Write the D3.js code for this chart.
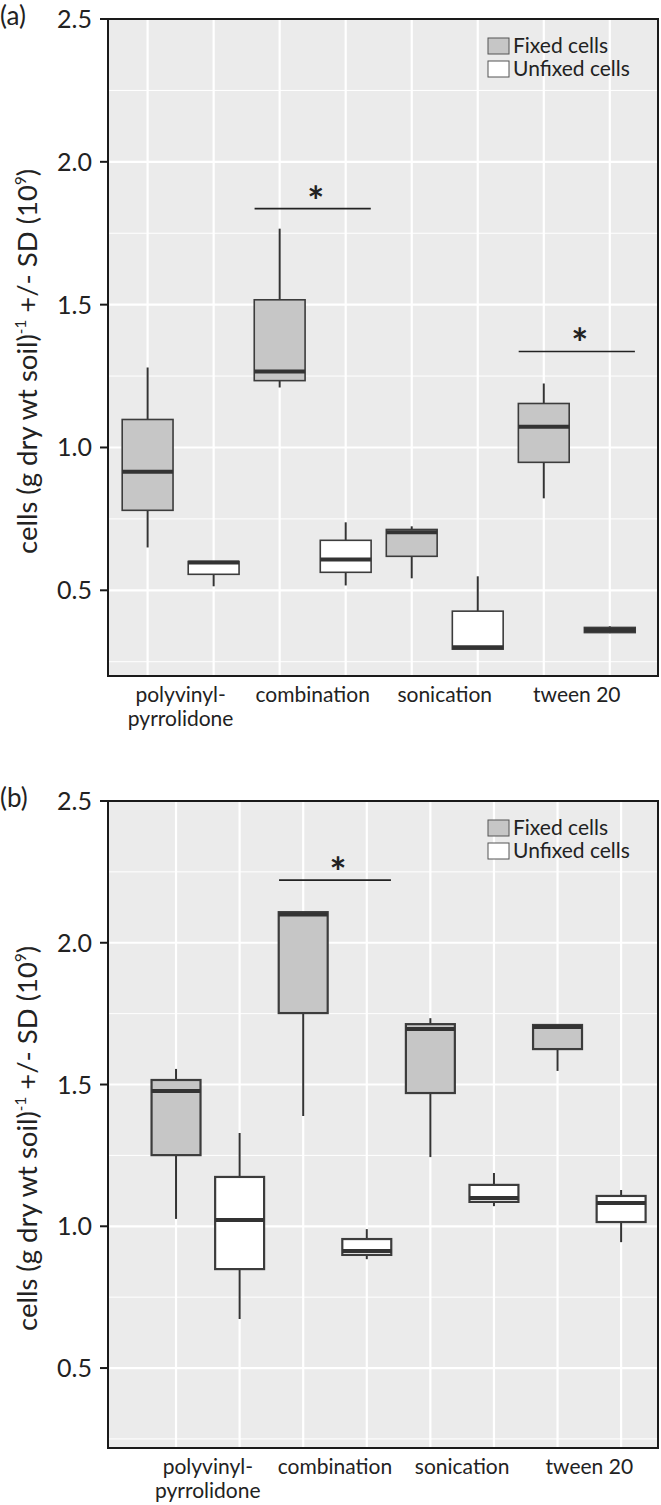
<!DOCTYPE html>
<html>
<head>
<meta charset="utf-8">
<script src="https://cdn.jsdelivr.net/npm/d3@7"></script>
<style>
  body { margin: 0; background: #fff; }
  text { font-family: Lato, "Open Sans", sans-serif; fill: #222; }
</style>
</head>
<body>
<svg id="chart" width="661" height="1505"></svg>
<script>
// categories and series
const categories = [["polyvinyl-", "pyrrolidone"], ["combination"], ["sonication"], ["tween 20"]];
const seriesNames = ["Fixed cells", "Unfixed cells"];
const yTicks = [0.5, 1.0, 1.5, 2.0, 2.5];
const yMinor = [0.25, 0.75, 1.25, 1.75, 2.25];

// box stats per category: [min, q1, median, q3, max]
const fixedA   = [[0.65, 0.78, 0.915, 1.098, 1.28], [1.21, 1.234, 1.266, 1.517, 1.766], [0.542, 0.619, 0.703, 0.713, 0.724], [0.822, 0.948, 1.073, 1.154, 1.224]];
const unfixedA = [[0.514, 0.556, 0.597, 0.601, 0.601], [0.517, 0.563, 0.608, 0.675, 0.738], [0.294, 0.294, 0.301, 0.427, 0.549], [0.35, 0.352, 0.361, 0.37, 0.374]];
const fixedB   = [[1.026, 1.251, 1.477, 1.516, 1.555], [1.389, 1.752, 2.10, 2.108, 2.108], [1.244, 1.47, 1.696, 1.713, 1.734], [1.548, 1.625, 1.703, 1.71, 1.71]];
const unfixedB = [[0.673, 0.849, 1.022, 1.174, 1.329], [0.884, 0.899, 0.913, 0.955, 0.99], [1.071, 1.086, 1.10, 1.146, 1.188], [0.944, 1.015, 1.082, 1.107, 1.128]];

// significance bars: category index and height
const sigA = [{ cat: 1, y: 1.836 }, { cat: 3, y: 1.336 }];
const sigB = [{ cat: 1, y: 2.221 }];

const fills = ["#c6c6c6", "#ffffff"];

const panels = [
  { label: "(a)", fixed: fixedA, unfixed: unfixedA, sig: sigA, top: 19, bottom: 676, yMin: 0.2, xDom: [-0.6, 7.73], boxStroke: 1.6 },
  { label: "(b)", fixed: fixedB, unfixed: unfixedB, sig: sigB, top: 801, bottom: 1448, yMin: 0.218, xDom: [-1.07, 7.58], boxStroke: 2.2 }
];

const left = 108, right = 658;
const svg = d3.select("#chart");

panels.forEach(p => {
  const g = svg.append("g");
  const x = d3.scaleLinear().domain(p.xDom).range([left, right]);
  const y = d3.scaleLinear().domain([p.yMin, 2.5]).range([p.bottom, p.top]);
  const bw = x(0.385) - x(0);

  g.append("rect").attr("x", left).attr("y", p.top).attr("width", right - left).attr("height", p.bottom - p.top).attr("fill", "#ebebeb");

  g.selectAll(".minor").data(yMinor).enter().append("line")
    .attr("x1", left).attr("x2", right).attr("y1", d => y(d)).attr("y2", d => y(d))
    .attr("stroke", "#fff").attr("stroke-width", 1);
  g.selectAll(".major").data(yTicks).enter().append("line")
    .attr("x1", left).attr("x2", right).attr("y1", d => y(d)).attr("y2", d => y(d))
    .attr("stroke", "#fff").attr("stroke-width", 2.2);
  g.selectAll(".vgrid").data(d3.range(8)).enter().append("line")
    .attr("x1", d => x(d)).attr("x2", d => x(d)).attr("y1", p.top).attr("y2", p.bottom)
    .attr("stroke", "#fff").attr("stroke-width", 2.2);

  // boxes
  const boxes = [];
  categories.forEach((c, i) => {
    boxes.push({ pos: 2 * i, s: p.fixed[i], fill: fills[0] });
    boxes.push({ pos: 2 * i + 1, s: p.unfixed[i], fill: fills[1] });
  });
  const bx = g.selectAll(".box").data(boxes).enter().append("g");
  bx.append("line").attr("x1", d => x(d.pos)).attr("x2", d => x(d.pos))
    .attr("y1", d => y(d.s[4])).attr("y2", d => y(d.s[3])).attr("stroke", "#333").attr("stroke-width", 2);
  bx.append("line").attr("x1", d => x(d.pos)).attr("x2", d => x(d.pos))
    .attr("y1", d => y(d.s[1])).attr("y2", d => y(d.s[0])).attr("stroke", "#333").attr("stroke-width", 2);
  bx.append("rect").attr("x", d => x(d.pos) - bw).attr("width", 2 * bw)
    .attr("y", d => y(d.s[3])).attr("height", d => y(d.s[1]) - y(d.s[3]))
    .attr("fill", d => d.fill).attr("stroke", "#3c3c3c").attr("stroke-width", p.boxStroke);
  bx.append("line").attr("x1", d => x(d.pos) - bw).attr("x2", d => x(d.pos) + bw)
    .attr("y1", d => y(d.s[2])).attr("y2", d => y(d.s[2])).attr("stroke", "#333").attr("stroke-width", 4);

  // frame
  g.append("rect").attr("x", left).attr("y", p.top).attr("width", right - left).attr("height", p.bottom - p.top)
    .attr("fill", "none").attr("stroke", "#1a1a1a").attr("stroke-width", 2);

  // y axis ticks and labels
  g.selectAll(".tick").data(yTicks).enter().append("line")
    .attr("x1", left - 8).attr("x2", left).attr("y1", d => y(d)).attr("y2", d => y(d))
    .attr("stroke", "#1a1a1a").attr("stroke-width", 2);
  g.selectAll(".tlab").data(yTicks).enter().append("text")
    .attr("x", 92).attr("y", d => y(d)).attr("dy", "0.36em").attr("text-anchor", "end")
    .attr("font-size", 25).text(d => d3.format(".1f")(d));

  // category labels
  categories.forEach((c, i) => {
    const t = g.append("text").attr("x", x(2 * i + 0.5)).attr("y", p.bottom + 26)
      .attr("text-anchor", "middle").attr("font-size", 21);
    c.forEach((line, k) => t.append("tspan").attr("x", x(2 * i + 0.5)).attr("dy", k ? 24 : 0).text(line));
  });

  // y axis title
  const ty = (p.top + p.bottom) / 2 + 14;
  const title = g.append("text").attr("transform", `translate(37,${ty}) rotate(-90)`)
    .attr("text-anchor", "middle").attr("font-size", 27.5);
  title.append("tspan").text("cells (g dry wt soil)");
  title.append("tspan").attr("font-size", 15).attr("dy", -11).text("-1");
  title.append("tspan").attr("dy", 11).text(" +/- SD (10");
  title.append("tspan").attr("font-size", 15).attr("dy", -11).text("9");
  title.append("tspan").attr("dy", 11).text(")");

  // panel label
  g.append("text").attr("x", 0).attr("y", p.top + 6).attr("font-size", 26).text(p.label);

  // significance
  p.sig.forEach(s => {
    const cx = x(2 * s.cat + 0.5);
    g.append("line").attr("x1", cx - (x(0.88) - x(0))).attr("x2", cx + (x(0.88) - x(0)))
      .attr("y1", y(s.y)).attr("y2", y(s.y)).attr("stroke", "#222").attr("stroke-width", 1.6);
    g.append("text").attr("x", cx + 3).attr("y", y(s.y) + 7).attr("text-anchor", "middle")
      .attr("font-size", 40).attr("font-weight", "bold").text("*");
  });

  // legend
  const lg = g.append("g").attr("transform", `translate(488,${p.top + 19})`);
  seriesNames.forEach((n, i) => {
    lg.append("rect").attr("x", 0).attr("y", i * 23).attr("width", 21).attr("height", 16)
      .attr("fill", fills[i]).attr("stroke", "#555").attr("stroke-width", 1);
    lg.append("text").attr("x", 25).attr("y", i * 23 + 15).attr("font-size", 21).text(n);
  });
});
</script>
</body>
</html>
